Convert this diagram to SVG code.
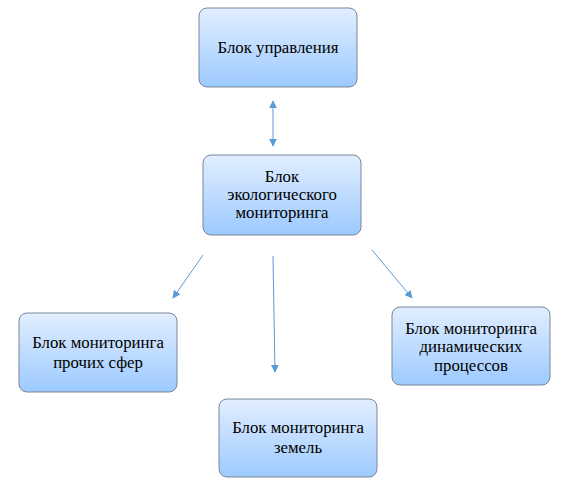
<svg xmlns="http://www.w3.org/2000/svg" width="564" height="484" viewBox="0 0 564 484">
<defs>
<linearGradient id="g" x1="0" y1="0" x2="0" y2="1">
<stop offset="0" stop-color="#e2eeff"/>
<stop offset="1" stop-color="#9ccaff"/>
</linearGradient>
<marker id="ah" viewBox="0 0 10 10" refX="9" refY="5" markerWidth="8" markerHeight="8" markerUnits="userSpaceOnUse" orient="auto-start-reverse">
<path d="M0,0 L10,5 L0,10 z" fill="#5b9bd5"/>
</marker>
</defs>
<style>
.box{fill:url(#g);stroke:#7a8797;stroke-width:1}
.c{stroke:#5b9bd5;stroke-width:1;fill:none;marker-end:url(#ah)}
</style>
<rect width="564" height="484" fill="#fff"/>
<g font-family="Liberation Serif" font-size="16.8" text-anchor="middle">
<g id="n1"><rect class="box" x="199" y="8" width="158" height="79" rx="8"/><text x="278" y="53">Блок управления</text></g>
<g id="n2"><rect class="box" x="203" y="155" width="158" height="80" rx="8"/><text x="282" y="182">Блок</text><text x="282" y="200">экологического</text><text x="282" y="218">мониторинга</text></g>
<g id="n3"><rect class="box" x="19" y="313" width="158" height="79" rx="8"/><text x="98" y="348">Блок мониторинга</text><text x="98" y="368">прочих сфер</text></g>
<g id="n4"><rect class="box" x="392" y="307" width="158" height="78" rx="8"/><text x="471" y="334">Блок мониторинга</text><text x="471" y="352">динамических</text><text x="471" y="371">процессов</text></g>
<g id="n5"><rect class="box" x="219" y="399" width="158" height="78" rx="8"/><text x="298" y="433">Блок мониторинга</text><text x="298" y="453">земель</text></g>
</g>
<g id="connectors">
<line class="c" x1="273" y1="101" x2="273" y2="146" style="marker-start:url(#ah)"/>
<line class="c" x1="203" y1="255" x2="173" y2="298"/>
<line class="c" x1="273" y1="256" x2="275" y2="372"/>
<line class="c" x1="372" y1="250" x2="412" y2="298"/>
</g>
</svg>
